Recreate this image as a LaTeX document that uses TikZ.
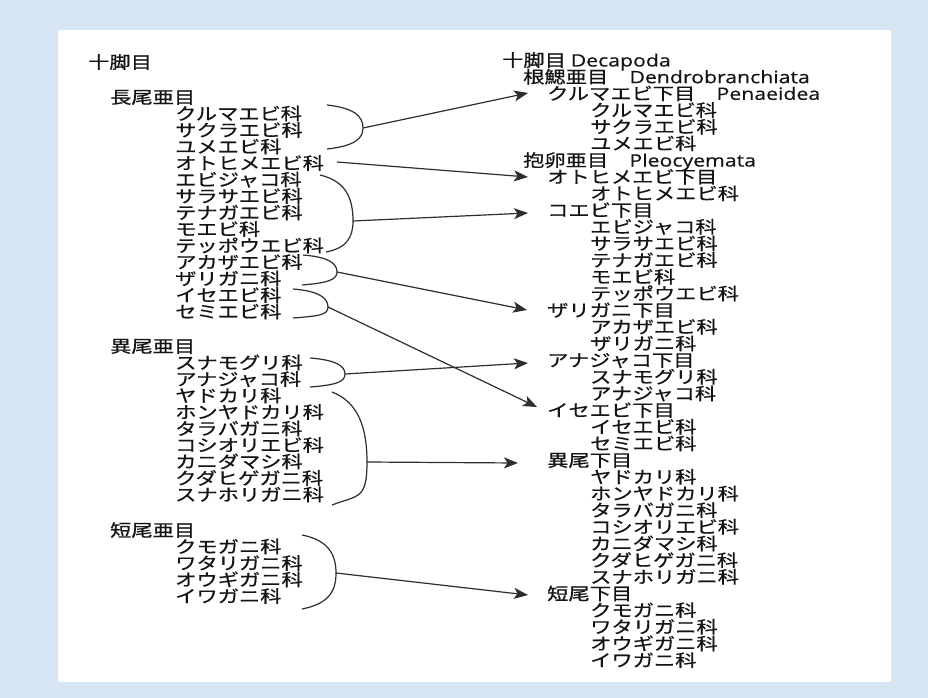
\documentclass[tikz,border=0pt]{standalone}
\usepackage{fontspec}
\usepackage{graphicx}
\newfontfamily\jp[FakeStretch=1.25,FakeBold=0.6]{Noto Sans CJK JP}
\newfontfamily\latf[FakeBold=0.4]{Open Sans}
\newcommand\lat[1]{\scalebox{1.25}[1]{\latf #1}}
\usetikzlibrary{arrows.meta}
\definecolor{bgblue}{HTML}{D6E6F5}
\definecolor{ink}{HTML}{141414}
\definecolor{linec}{HTML}{2E2E2E}
\tikzset{
  lbl/.style={anchor=base west, inner sep=0pt, text=ink, font=\jp\fontsize{17}{17}\selectfont},
  brk/.style={draw=linec, line width=1.2pt},
  arr/.style={draw=linec, line width=1.2pt, -{Stealth[length=14pt,width=11pt,inset=3.5pt]}}
}
\begin{document}
\begin{tikzpicture}[x=1pt,y=-1pt]
\fill[bgblue] (0,0) rectangle (928,698);
\fill[white] (58,30) rectangle (891,682);
\useasboundingbox (0,0) rectangle (928,698);

% ---------- left column ----------
\node[lbl] (lroot) at (88,68.5) {十脚目};
\node[lbl] (lg1) at (110,103.5) {長尾亜目};
\foreach \t [count=\i] in {クルマエビ科,サクラエビ科,ユメエビ科,オトヒメエビ科,エビジャコ科,サラサエビ科,テナガエビ科,モエビ科,テッポウエビ科,アカザエビ科,ザリガニ科,イセエビ科,セミエビ科}
  \node[lbl] (la\i) at (175,{103.5+16.5*\i}) {\t};
\node[lbl] (lg2) at (110,352.5) {異尾亜目};
\foreach \t [count=\i] in {スナモグリ科,アナジャコ科,ヤドカリ科,ホンヤドカリ科,タラバガニ科,コシオリエビ科,カニダマシ科,クダヒゲガニ科,スナホリガニ科}
  \node[lbl] (lb\i) at (175,{352.5+16.5*\i}) {\t};
\node[lbl] (lg3) at (110,536.5) {短尾亜目};
\foreach \t [count=\i] in {クモガニ科,ワタリガニ科,オウギガニ科,イワガニ科}
  \node[lbl] (lc\i) at (175,{536.5+16.5*\i}) {\t};

% ---------- right column ----------
\node[lbl] (r0) at (502,{66.5+16.67*0}) {十脚目 \lat{Decapoda}};
\node[lbl] (r1) at (523,{66.5+16.67*1}) {根鰓亜目　\lat{Dendrobranchiata}};
\node[lbl] (r2) at (547,{66.5+16.67*2}) {クルマエビ下目　\lat{Penaeidea}};
\node[lbl] (r3) at (590,{66.5+16.67*3}) {クルマエビ科};
\node[lbl] (r4) at (590,{66.5+16.67*4}) {サクラエビ科};
\node[lbl] (r5) at (590,{66.5+16.67*5}) {ユメエビ科};
\node[lbl] (r6) at (523,{66.5+16.67*6}) {抱卵亜目　\lat{Pleocyemata}};
\node[lbl] (r7) at (547,{66.5+16.67*7}) {オトヒメエビ下目};
\node[lbl] (r8) at (590,{66.5+16.67*8}) {オトヒメエビ科};
\node[lbl] (r9) at (547,{66.5+16.67*9}) {コエビ下目};
\node[lbl] (r10) at (590,{66.5+16.67*10}) {エビジャコ科};
\node[lbl] (r11) at (590,{66.5+16.67*11}) {サラサエビ科};
\node[lbl] (r12) at (590,{66.5+16.67*12}) {テナガエビ科};
\node[lbl] (r13) at (590,{66.5+16.67*13}) {モエビ科};
\node[lbl] (r14) at (590,{66.5+16.67*14}) {テッポウエビ科};
\node[lbl] (r15) at (547,{66.5+16.67*15}) {ザリガニ下目};
\node[lbl] (r16) at (590,{66.5+16.67*16}) {アカザエビ科};
\node[lbl] (r17) at (590,{66.5+16.67*17}) {ザリガニ科};
\node[lbl] (r18) at (547,{66.5+16.67*18}) {アナジャコ下目};
\node[lbl] (r19) at (590,{66.5+16.67*19}) {スナモグリ科};
\node[lbl] (r20) at (590,{66.5+16.67*20}) {アナジャコ科};
\node[lbl] (r21) at (547,{66.5+16.67*21}) {イセエビ下目};
\node[lbl] (r22) at (590,{66.5+16.67*22}) {イセエビ科};
\node[lbl] (r23) at (590,{66.5+16.67*23}) {セミエビ科};
\node[lbl] (r24) at (547,{66.5+16.67*24}) {異尾下目};
\node[lbl] (r25) at (590,{66.5+16.67*25}) {ヤドカリ科};
\node[lbl] (r26) at (590,{66.5+16.67*26}) {ホンヤドカリ科};
\node[lbl] (r27) at (590,{66.5+16.67*27}) {タラバガニ科};
\node[lbl] (r28) at (590,{66.5+16.67*28}) {コシオリエビ科};
\node[lbl] (r29) at (590,{66.5+16.67*29}) {カニダマシ科};
\node[lbl] (r30) at (590,{66.5+16.67*30}) {クダヒゲガニ科};
\node[lbl] (r31) at (590,{66.5+16.67*31}) {スナホリガニ科};
\node[lbl] (r32) at (547,{66.5+16.67*32}) {短尾下目};
\node[lbl] (r33) at (590,{66.5+16.67*33}) {クモガニ科};
\node[lbl] (r34) at (590,{66.5+16.67*34}) {ワタリガニ科};
\node[lbl] (r35) at (590,{66.5+16.67*35}) {オウギガニ科};
\node[lbl] (r36) at (590,{66.5+16.67*36}) {イワガニ科};

% ---------- brackets ----------
\coordinate (a1) at (363,128);
\coordinate (a3) at (353,221);
\coordinate (a4) at (337,272);
\coordinate (a5) at (328,307);
\coordinate (a6) at (345,374);
\coordinate (a7) at (367,462);
\coordinate (a8) at (336,573);
\draw[brk] (327,105) .. controls (354,108) and (363,116) .. (a1) .. controls (363,139) and (354,146) .. (327,149);
\draw[brk] (320,175) .. controls (345,181) and (353,197) .. (a3) .. controls (353,237) and (347,248) .. (326,252);
\draw[brk] (303,255) .. controls (328,257) and (337,263) .. (a4) .. controls (337,280) and (327,283) .. (302,285);
\draw[brk] (293,289) .. controls (319,291) and (328,298) .. (a5) .. controls (328,315) and (319,316) .. (293,318);
\draw[brk] (310,358) .. controls (336,360) and (345,366) .. (a6) .. controls (345,382) and (336,385) .. (310,387);
\draw[brk] (332,392) .. controls (358,402) and (367,427) .. (a7) .. controls (367,500) and (358,495) .. (332,505);
\draw[brk] (302,535) .. controls (327,540) and (336,553) .. (a8) .. controls (336,593) and (327,604) .. (302,609);

% ---------- arrow targets ----------
\coordinate (t2) at (528,93);
\coordinate (t7) at (528,177);
\coordinate (t9) at (528,213);
\coordinate (t15) at (527,310);
\coordinate (t21) at (537,407);
\coordinate (t18) at (528,363);
\coordinate (t24) at (518,463);
\coordinate (t32) at (528,595);
\coordinate (s2) at (337,162);

\draw[arr] (a1) -- (t2);
\draw[arr] (s2) -- (t7);
\draw[arr] (a3) -- (t9);
\draw[arr] (a4) -- (t15);
\draw[arr] (a5) -- (t21);
\draw[arr] (a6) -- (t18);
\draw[arr] (a7) -- (t24);
\draw[arr] (a8) -- (t32);
\end{tikzpicture}
\end{document}
